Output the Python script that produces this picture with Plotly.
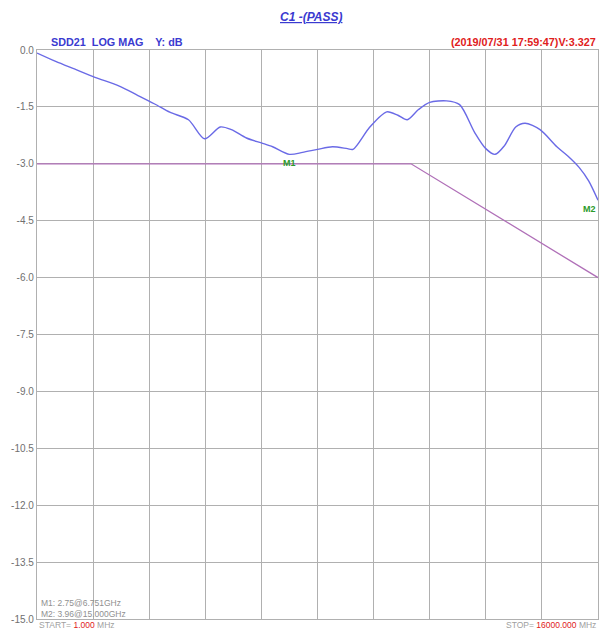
import plotly.graph_objects as go

# Measured trace (frequency in GHz, magnitude in dB)
freq_ghz = [0.001, 0.5, 1.0, 1.55, 2.2, 2.7, 3.2, 3.55, 4.05, 4.48, 4.9, 5.2, 5.6, 6.0, 6.3, 6.75,
            7.1, 7.5, 7.9, 8.3, 8.45, 8.9, 9.35, 9.65, 9.9, 10.2, 10.5, 10.95, 11.3, 11.7, 12.0,
            12.25, 12.5, 12.8, 13.05, 13.45, 13.9, 14.2, 14.5, 14.75, 15.0]
sdd21_db = [-0.08, -0.3, -0.5, -0.72, -0.95, -1.2, -1.45, -1.64, -1.84, -2.34, -2.03, -2.1,
            -2.32, -2.45, -2.55, -2.75, -2.7, -2.62, -2.55, -2.6, -2.62, -2.03, -1.63, -1.72,
            -1.84, -1.57, -1.38, -1.34, -1.44, -2.17, -2.6, -2.75, -2.52, -2.03, -1.93, -2.1,
            -2.55, -2.8, -3.1, -3.45, -3.96]

# Limit line
limit_freq = [0.001, 10.0, 15.0]
limit_db = [-3.0, -3.0, -6.0]

# Markers
marker_names = ["M1", "M2"]
marker_freq = [6.751, 15.0]
marker_db = [-2.75, -3.96]

y_ticks = [0.0, -1.5, -3.0, -4.5, -6.0, -7.5, -9.0, -10.5, -12.0, -13.5, -15.0]

fig = go.Figure()
fig.add_trace(go.Scatter(x=limit_freq, y=limit_db, mode="lines",
                         line=dict(color="#b070b8", width=1.3), hoverinfo="skip"))
fig.add_trace(go.Scatter(x=freq_ghz, y=sdd21_db, mode="lines",
                         line=dict(color="#6a6ae6", width=1.4, shape="spline", smoothing=0.8)))

for name, fx, fy in zip(marker_names, marker_freq, marker_db):
    fig.add_annotation(x=fx, y=fy, text="<b>" + name + "</b>", showarrow=False, yanchor="top",
                       xanchor="center" if fx < 14.9 else "right", yshift=-2,
                       font=dict(color="#2a9a2a", size=9, family="Arial"))

grid = "#b0b0b0"
fig.update_xaxes(range=[0, 15], dtick=1.5, tick0=0, showticklabels=False, showgrid=True,
                 gridcolor=grid, gridwidth=1.3, zeroline=False, showline=True, mirror=True,
                 linecolor=grid, linewidth=1.3)
fig.update_yaxes(range=[-15, 0], tickvals=y_ticks, ticktext=[f"{v:.1f}" for v in y_ticks],
                 showgrid=True, gridcolor=grid, gridwidth=1.3, zeroline=False, showline=True,
                 mirror=True, linecolor=grid, linewidth=1.3, ticks="",
                 tickfont=dict(color="#707070", size=10, family="Arial"))

fig.add_annotation(xref="paper", yref="paper", x=0.488, y=1, yshift=24, showarrow=False,
                   text="<b><i><u>C1 -(PASS)</u></i></b>", font=dict(color="#3a3ad0", size=12, family="Arial"),
                   yanchor="bottom")
fig.add_annotation(xref="paper", yref="paper", x=0.022, y=1, showarrow=False, xanchor="left",
                   yanchor="bottom", text="<b>SDD21  LOG MAG    Y: dB</b>",
                   font=dict(color="#3a3ad0", size=10.8, family="Arial"))
fig.add_annotation(xref="paper", yref="paper", x=1.0, y=1, showarrow=False, xanchor="right",
                   yanchor="bottom", text="<b>(2019/07/31 17:59:47)V:3.327</b>",
                   font=dict(color="#e02020", size=10.8, family="Arial"))
fig.add_annotation(xref="paper", yref="paper", x=0.004, y=0, yshift=-2, showarrow=False,
                   xanchor="left", yanchor="bottom",
                   text="M1: 2.75@6.751GHz<br>M2: 3.96@15.000GHz",
                   font=dict(color="#909090", size=8.5, family="Arial"), align="left")
fig.add_annotation(xref="paper", yref="paper", x=0.0, y=0, showarrow=False,
                   xanchor="left", yanchor="top", yshift=1,
                   text="START= <span style='color:#e02020'>1.000</span> MHz",
                   font=dict(color="#a0a0a0", size=8.5, family="Arial"))
fig.add_annotation(xref="paper", yref="paper", x=1.0, y=0, showarrow=False,
                   xanchor="right", yanchor="top", yshift=1,
                   text="STOP= <span style='color:#e02020'>16000.000</span> MHz",
                   font=dict(color="#a0a0a0", size=8.5, family="Arial"))

fig.update_layout(width=606, height=632, margin=dict(l=37, r=7, t=50, b=10),
                  paper_bgcolor="white", plot_bgcolor="white", showlegend=False,
                  font=dict(family="Arial"))
fig.write_html("out.html", config={"displayModeBar": False},
               post_script="document.body.style.margin='0';document.body.style.overflow='hidden';")
